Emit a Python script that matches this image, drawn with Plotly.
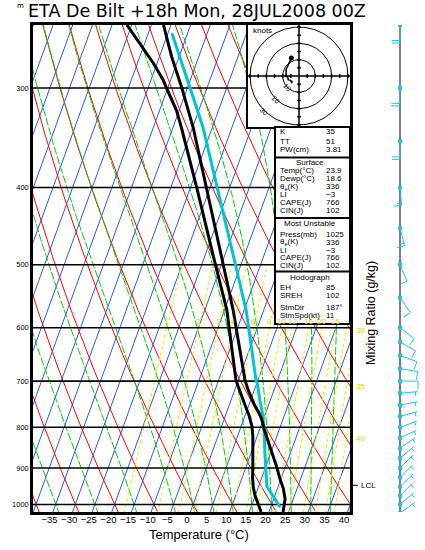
import numpy as np
import plotly.graph_objects as go

# ---- sounding (hPa, degC) ----
temp_p = [1022, 984, 955, 928, 897, 871, 845, 827, 807, 782, 769, 752, 736, 719, 698, 600, 570, 500, 400, 336, 320, 300, 274, 250]
temp_c = [23.6, 22.9, 21.5, 19.7, 17.8, 16.0, 14.2, 12.7, 11.3, 9.6, 8.5, 6.6, 5.1, 3.5, 1.7, -5.4, -7.8, -14.5, -25.9, -34.9, -37.7, -41.4, -46.9, -51.9]

dewp_p = [1022, 997, 974, 951, 924, 899, 871, 845, 821, 797, 773, 750, 728, 707, 698, 600, 570, 500, 400, 336, 320, 300, 293, 279, 264, 250]
dewp_c = [18.0, 16.3, 14.9, 13.7, 12.6, 11.8, 10.8, 9.9, 8.9, 7.7, 6.0, 4.0, 2.0, 0.2, -0.6, -7.3, -9.4, -16.5, -28.4, -37.9, -40.7, -45.3, -46.9, -51.0, -56.2, -61.2]

parcel_p = [1008, 949, 871, 807, 769, 741, 707, 698, 600, 570, 500, 400, 336, 300, 256]
parcel_c = [22.4, 17.1, 13.9, 11.2, 9.3, 7.4, 5.3, 4.5, -2.2, -4.5, -11.4, -23.2, -32.4, -39.3, -49.0]

# winds: direction (deg from), speed (kt)
wind_p = [1025, 1000, 975, 950, 925, 900, 875, 850, 825, 800, 775, 750, 725, 700, 675, 650, 625, 600, 550, 500, 450, 400, 350, 300, 250]
wind_dir = [55, 50, 45, 45, 45, 45, 50, 55, 65, 70, 75, 80, 85, 90, 100, 110, 120, 127, 145, 157, 165, 175, 180, 183, 180]
wind_spd = [5, 6, 6, 6, 6, 6, 6, 6, 6, 7, 7, 7, 7, 8, 8, 8, 9, 9, 10, 12, 14, 17, 20, 22, 20]
hodo_top_p = 500
lcl_p = 946

# background line families
isotherms = list(range(-120, 50, 5))
dry_theta = list(range(-40, 160, 10))
moist_thetaw = [-35, -25, -15, -5, 0, 5, 10, 15, 20, 25, 30, 35, 40]
mix_ratio = [1, 2, 3, 4, 6, 8, 10, 12, 16, 20, 25, 30, 35, 40]
mix_label_p = 600
hodo_rings = [10, 20, 30]

p_ticks = [300, 400, 500, 600, 700, 800, 900, 1000]
t_ticks = list(range(-35, 45, 5))

# stats box
idx_labels = ["K", "TT", "PW(cm)"]
idx_values = ["35", "51", "3.81"]
sfc_labels = ["Temp(°C)", "Dewp(°C)", "θ<sub>e</sub>(K)", "LI", "CAPE(J)", "CIN(J)"]
sfc_values = ["23.9", "18.6", "336", "−3", "766", "102"]
mu_labels = ["Press(mb)", "θ<sub>e</sub>(K)", "LI", "CAPE(J)", "CIN(J)"]
mu_values = ["1025", "336", "−3", "766", "102"]
hodo_labels = ["EH", "SREH", "StmDir", "StmSpd(kt)"]
hodo_values = ["85", "102", "187°", "11"]

title = "ETA De Bilt +18h Mon, 28JUL2008 00Z"

# ---- geometry (page pixels) ----
SKEW, P_REF = 32.0, 1050.0
P_BOT, P_TOP = 1022.0, 250.0
X_LEFT, X_RIGHT = -39.2, 41.5
L, T, W_AREA, H_AREA = 33, 25, 387, 487


def px(x):
    return (x - L) / W_AREA


def py(y):
    return 1 - (y - T) / H_AREA


def skew(t, p):
    return np.asarray(t, float) + SKEW * np.log(P_REF / np.asarray(p, float))


def td_from_w(w, p):
    e = w * p / (622.0 + w)
    a = np.log(e / 6.112)
    return 243.5 * a / (17.67 - a)


def moist_dtdp(t, p):
    es = 6.112 * np.exp(17.67 * (t - 273.15) / (t - 29.65))
    rs = 0.622 * es / (p - es)
    return (287.04 * t + 2.501e6 * rs) / (1005.7 + 2.501e6 ** 2 * rs * 0.622 / (287.04 * t * t)) / p


def integrate(t0, path):
    out = [t0]
    t = t0
    for p0, p1 in zip(path[:-1], path[1:]):
        h = p1 - p0
        k1 = moist_dtdp(t, p0)
        k2 = moist_dtdp(t + h / 2 * k1, p0 + h / 2)
        k3 = moist_dtdp(t + h / 2 * k2, p0 + h / 2)
        k4 = moist_dtdp(t + h * k3, p1)
        t = t + h / 6 * (k1 + 2 * k2 + 2 * k3 + k4)
        out.append(t)
    return np.array(out)


def joined(lines):
    xs, ys = [], []
    for x, y in lines:
        xs += list(x) + [None]
        ys += list(y) + [None]
    return xs, ys


fig = go.Figure()
pp = np.linspace(1060, 240, 120)

# isotherms
xs, ys = joined([(skew([t, t], [1060, 240]), [1060, 240]) for t in isotherms])
fig.add_trace(go.Scatter(x=xs, y=ys, mode="lines", line=dict(color="#2a55ff", width=1), hoverinfo="skip"))

# dry adiabats
xs, ys = joined([(skew((th + 273.15) * (pp / 1000.0) ** 0.2857 - 273.15, pp), pp) for th in dry_theta])
fig.add_trace(go.Scatter(x=xs, y=ys, mode="lines", line=dict(color="#ff0000", width=1), hoverinfo="skip"))

# moist adiabats
up = np.arange(1000.0, 244.0, -5.0)
down = np.arange(1000.0, 1061.0, 5.0)
t0 = np.array(moist_thetaw, float) + 273.15
t_up = integrate(t0, up)
t_dn = integrate(t0, down)
lines = []
for i in range(len(moist_thetaw)):
    p_all = np.concatenate([down[::-1], up[1:]])
    t_all = np.concatenate([t_dn[::-1, i], t_up[1:, i]]) - 273.15
    lines.append((skew(t_all, p_all), p_all))
xs, ys = joined(lines)
fig.add_trace(go.Scatter(x=xs, y=ys, mode="lines", line=dict(color="#00d000", width=1, dash="8px,2px"), hoverinfo="skip"))

# mixing ratio lines
pm = np.linspace(1060, 500, 60)
xs, ys = joined([(skew(td_from_w(w, pm), pm), pm) for w in mix_ratio])
fig.add_trace(go.Scatter(x=xs, y=ys, mode="lines", line=dict(color="#eeee00", width=1.2, dash="dot"), hoverinfo="skip"))

# pressure lines
xs, ys = joined([([X_LEFT, X_RIGHT], [p, p]) for p in p_ticks])
fig.add_trace(go.Scatter(x=xs, y=ys, mode="lines", line=dict(color="black", width=1.6), hoverinfo="skip"))

# parcel, temperature, dewpoint
fig.add_trace(go.Scatter(x=skew(parcel_c, parcel_p), y=parcel_p, mode="lines", line=dict(color="#00c4d4", width=3)))
fig.add_trace(go.Scatter(x=skew(temp_c, temp_p), y=temp_p, mode="lines", line=dict(color="black", width=3)))
fig.add_trace(go.Scatter(x=skew(dewp_c, dewp_p), y=dewp_p, mode="lines", line=dict(color="black", width=3)))

annotations = []
yellow = "#d8d800"
for w in mix_ratio:
    xw = float(skew(td_from_w(w, mix_label_p), mix_label_p))
    if xw < X_RIGHT - 1.5:
        annotations.append(dict(x=xw, y=np.log10(mix_label_p), xref="x", yref="y", text=str(w), showarrow=False,
                                yshift=6, font=dict(size=8, color=yellow, family="Liberation Sans")))

# ---- wind barbs column ----
BARB_X = 400
PX_PER_DEC = H_AREA / (np.log10(P_BOT) - np.log10(P_TOP))
bx, by = [], []
for p, d, s in zip(wind_p, wind_dir, wind_spd):
    y0 = np.log10(p)
    a = np.radians(d)
    ux, uy = np.sin(a), -np.cos(a)
    nx, ny = np.sin(a + np.pi / 2), -np.cos(a + np.pi / 2)

    def seg(x0, y0_, x1, y1):
        bx.extend([BARB_X + x0, BARB_X + x1, None])
        by.extend([y0 + y0_ / PX_PER_DEC, y0 + y1 / PX_PER_DEC, None])

    tx, ty = 18 * ux, 18 * uy
    seg(0, 0, tx, ty)
    full, half = divmod(int(round(s / 5.0)), 2)
    k = 0
    for i in range(full):
        sx, sy = tx - k * 2.5 * ux, ty - k * 2.5 * uy
        seg(sx, sy, sx + 8 * nx, sy + 8 * ny)
        k += 1
    if half:
        k = max(k, 1)
        sx, sy = tx - k * 2.5 * ux, ty - k * 2.5 * uy
        seg(sx, sy, sx + 4 * nx, sy + 4 * ny)

fig.add_trace(go.Scatter(x=[BARB_X, BARB_X], y=[np.log10(max(wind_p)) + 0.01, np.log10(min(wind_p))], xaxis="x2", yaxis="y2",
                         mode="lines", line=dict(color="black", width=1)))
fig.add_trace(go.Scatter(x=bx, y=by, xaxis="x2", yaxis="y2", mode="lines", line=dict(color="#1ec3ee", width=1)))
fig.add_trace(go.Scatter(x=[BARB_X] * len(wind_p), y=np.log10(wind_p), xaxis="x2", yaxis="y2", mode="markers",
                         marker=dict(color="#1ec3ee", size=4, symbol="square")))
# LCL tick
fig.add_trace(go.Scatter(x=[352, 358], y=[np.log10(lcl_p)] * 2, xaxis="x2", yaxis="y2", mode="lines",
                         line=dict(color="black", width=1)))
annotations.append(dict(x=359, y=np.log10(lcl_p), xref="x2", yref="y2", text="LCL", showarrow=False, xanchor="left",
                        font=dict(size=8, color="black", family="Liberation Sans")))

# mixing ratio labels where lines reach the right edge
pe = np.linspace(1060, 500, 400)
for w in mix_ratio:
    xw = skew(td_from_w(w, pe), pe)
    edge = X_RIGHT - 1.0
    if xw[0] < edge < xw[-1] and float(skew(td_from_w(w, mix_label_p), mix_label_p)) >= X_RIGHT - 1.5:
        pcross = np.interp(edge, xw, pe)
        annotations.append(dict(x=354, y=np.log10(pcross), xref="x2", yref="y2", text=str(w), showarrow=False,
                                xanchor="left", font=dict(size=8, color=yellow, family="Liberation Sans")))

# ---- hodograph ----
R = 31.3
ang = np.linspace(0, 2 * np.pi, 120)
xs, ys = joined([(r * np.cos(ang), r * np.sin(ang)) for r in hodo_rings])
fig.add_trace(go.Scatter(x=xs, y=ys, xaxis="x3", yaxis="y3", mode="lines", line=dict(color="black", width=1)))
cx, cy = [-R, R, None, 0, 0, None], [0, 0, None, -R, R, None]
for v in range(-30, 31, 5):
    if v == 0:
        continue
    cx += [v, v, None, -1.2, 1.2, None]
    cy += [-1.2, 1.2, None, v, v, None]
fig.add_trace(go.Scatter(x=cx, y=cy, xaxis="x3", yaxis="y3", mode="lines", line=dict(color="black", width=1.5)))
hu, hv = [], []
for p, d, s in zip(wind_p, wind_dir, wind_spd):
    if p >= hodo_top_p:
        hu.append(-s * np.sin(np.radians(d)))
        hv.append(-s * np.cos(np.radians(d)))
fig.add_trace(go.Scatter(x=hu, y=hv, xaxis="x3", yaxis="y3", mode="lines", line=dict(color="black", width=1.5)))
fig.add_trace(go.Scatter(x=[hu[-1]], y=[hv[-1]], xaxis="x3", yaxis="y3", mode="markers",
                         marker=dict(color="black", size=5)))
for r in hodo_rings:
    annotations.append(dict(x=-r * 0.72, y=-r * 0.72, xref="x3", yref="y3", text=str(r), showarrow=False,
                            textangle=45, font=dict(size=7, color="black", family="Liberation Sans")))
annotations.append(dict(x=px(251), y=py(31), xref="paper", yref="paper", text="knots", showarrow=False,
                        xanchor="left", font=dict(size=8, color="black", family="Liberation Sans")))

# ---- stats box ----
shapes = [dict(type="rect", xref="paper", yref="paper", x0=px(275), x1=px(350), y0=py(324), y1=py(127),
               fillcolor="white", line=dict(color="black", width=2), layer="above")]
for ysep in [157.5, 218, 271.5]:
    shapes.append(dict(type="line", xref="paper", yref="paper", x0=px(275), x1=px(350), y0=py(ysep), y1=py(ysep),
                       line=dict(color="black", width=2), layer="above"))

row_y = {
    "idx": [131.5, 141.5, 149.5],
    "sfc": [170.5, 178.5, 186.5, 194.5, 202.5, 210.5],
    "mu": [234, 242, 250, 257.5, 265],
    "hodo": [287.5, 295.5, 307.5, 315.5],
}
head_y = {"sfc": 162.5, "mu": 223.5, "hodo": 277.5}
heads = {"sfc": "Surface", "mu": "Most Unstable", "hodo": "Hodograph"}
sections = {"idx": (idx_labels, idx_values), "sfc": (sfc_labels, sfc_values),
            "mu": (mu_labels, mu_values), "hodo": (hodo_labels, hodo_values)}
tfont = dict(size=8, color="black", family="Liberation Sans")
for key, (labs, vals) in sections.items():
    for lab, val, yy in zip(labs, vals, row_y[key]):
        annotations.append(dict(x=px(278), y=py(yy), xref="paper", yref="paper", text=lab, showarrow=False,
                                xanchor="left", font=tfont))
        annotations.append(dict(x=px(324), y=py(yy), xref="paper", yref="paper", text=val, showarrow=False,
                                xanchor="left", font=tfont))
    if key in heads:
        annotations.append(dict(x=px(310), y=py(head_y[key]), xref="paper", yref="paper", text=heads[key],
                                showarrow=False, font=tfont))

# titles and axis text
annotations.append(dict(x=px(26), y=py(10.5), xref="paper", yref="paper", text=title, showarrow=False, xanchor="left",
                        font=dict(size=17.5, color="black", family="DejaVu Sans")))
annotations.append(dict(x=px(20), y=py(6), xref="paper", yref="paper", text="m", showarrow=False,
                        font=dict(size=7, color="black", family="DejaVu Sans")))
annotations.append(dict(x=px(199), y=py(534), xref="paper", yref="paper", text="Temperature (°C)", showarrow=False,
                        font=dict(size=13, color="black", family="Liberation Sans")))
annotations.append(dict(x=px(371), y=py(313), xref="paper", yref="paper", text="Mixing Ratio (g/kg)", showarrow=False,
                        textangle=-90, font=dict(size=12.5, color="black", family="Liberation Sans")))

for a in annotations:
    a.setdefault("xanchor", "center")
    a.setdefault("yanchor", "middle")

fig.update_layout(
    width=425, height=550, margin=dict(l=L, r=5, t=T, b=38),
    paper_bgcolor="white", plot_bgcolor="white", showlegend=False,
    xaxis=dict(domain=[0, px(350)], range=[X_LEFT, X_RIGHT], tickvals=t_ticks, ticks="", showgrid=False,
               zeroline=False, showline=True, mirror=True, linecolor="black", linewidth=2.5, anchor="y",
               ticklabelstandoff=-3, tickfont=dict(size=9.5, color="black", family="Liberation Sans")),
    yaxis=dict(type="log", range=[np.log10(P_BOT), np.log10(P_TOP)], tickvals=p_ticks, ticktext=[str(p) for p in p_ticks],
               ticks="", showgrid=False, zeroline=False, showline=True, mirror=True, linecolor="black",
               linewidth=2.5, anchor="x", tickfont=dict(size=7.5, color="black", family="Liberation Sans")),
    xaxis2=dict(domain=[px(352), 1.0], range=[352, 420], visible=False, anchor="y2"),
    yaxis2=dict(domain=[0, 1], range=[np.log10(P_BOT), np.log10(P_TOP)], visible=False, anchor="x2"),
    xaxis3=dict(domain=[px(248), px(350)], range=[-R, R], showgrid=False, zeroline=False, showticklabels=False,
                ticks="", showline=True, mirror=True, linecolor="black", linewidth=2, anchor="y3"),
    yaxis3=dict(domain=[py(127), py(25)], range=[-R, R], showgrid=False, zeroline=False, showticklabels=False,
                ticks="", showline=True, mirror=True, linecolor="black", linewidth=2, anchor="x3"),
    annotations=annotations, shapes=shapes,
)

# the page body has a default 8px margin; drop it so the figure sits at the window corner
fig.write_html("out.html", config={"displayModeBar": False},
               post_script="document.body.style.margin='0';")
